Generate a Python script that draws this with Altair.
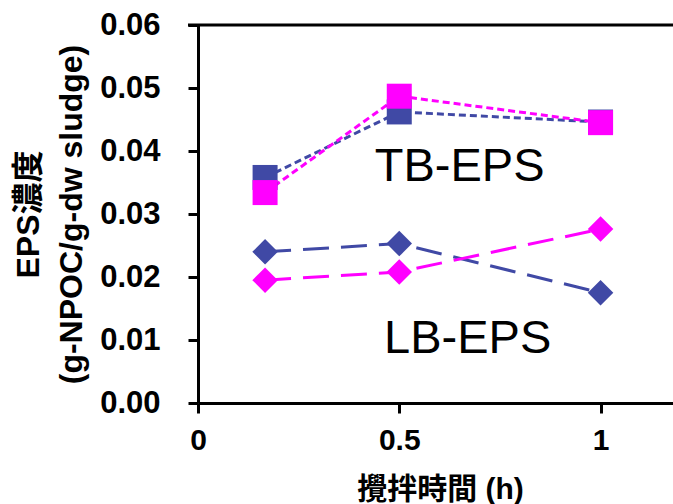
import altair as alt
import pandas as pd

times = [1/6, 0.5, 1.0]
tb_blue = [0.0358, 0.0462, 0.0446]
tb_pink = [0.0334, 0.0487, 0.0445]
lb_blue = [0.0240, 0.0253, 0.0175]
lb_pink = [0.0195, 0.0208, 0.0276]

BLUE = "#4049A5"
PINK = "#FF00FF"
FONT = "Liberation Sans, Noto Sans CJK JP"

rows = []
for name, vals, grp in [("TB-blue", tb_blue, "TB"), ("TB-pink", tb_pink, "TB"),
                        ("LB-blue", lb_blue, "LB"), ("LB-pink", lb_pink, "LB")]:
    for t, v in zip(times, vals):
        rows.append({"series": name, "group": grp, "t": t, "v": v})
df = pd.DataFrame(rows)

labels_df = pd.DataFrame({"t": [0.65, 0.67], "v": [0.0375, 0.0102], "txt": ["TB-EPS", "LB-EPS"]})

xscale = alt.Scale(domain=[0, 1.18], nice=False, zero=False)
yscale = alt.Scale(domain=[0, 0.06], nice=False)
cscale = alt.Scale(domain=["TB-blue", "TB-pink", "LB-blue", "LB-pink"],
                   range=[BLUE, PINK, BLUE, PINK])

xaxis = alt.Axis(values=[0, 0.5, 1], labelExpr="datum.value == 0 ? '0' : datum.value == 1 ? '1' : '0.5'",
                 title="攪拌時間 (h)", titleFont=FONT, titleFontSize=30, titleFontWeight="bold",
                 titleX=242, titleY=86, titleBaseline="middle", titleAlign="center",
                 labelFont=FONT, labelFontSize=30, labelFontWeight="bold", labelPadding=12,
                 domainColor="black", domainWidth=3, tickColor="black", tickWidth=3, tickSize=10,
                 grid=False, labelColor="black", titleColor="black", labelFlush=False)
yaxis = alt.Axis(values=[0, 0.01, 0.02, 0.03, 0.04, 0.05, 0.06], format=".2f",
                 title=["EPS濃度", "(g-NPOC/g-dw sludge)"], titleFont=FONT, titleFontSize=32,
                 titleFontWeight="bold", titleAngle=-90, titleX=-170, titleY=189,
                 titleAlign="center", titleBaseline="middle", titleLineHeight=43,
                 labelFont=FONT, labelFontSize=31, labelFontWeight="bold", labelPadding=28,
                 domainColor="black", domainWidth=3, tickColor="black", tickWidth=3, tickSize=10,
                 grid=False, labelColor="black", titleColor="black")

tb = df[df.group == "TB"]
lb = df[df.group == "LB"]

tb_lines = alt.Chart(tb).mark_line(strokeWidth=3, strokeDash=[7, 4]).encode(
    x=alt.X("t:Q", scale=xscale, axis=xaxis),
    y=alt.Y("v:Q", scale=yscale, axis=yaxis),
    color=alt.Color("series:N", scale=cscale, legend=None),
    detail="series:N")
lb_lines = alt.Chart(lb).mark_line(strokeWidth=3, strokeDash=[26, 12]).encode(
    x=alt.X("t:Q", scale=xscale),
    y=alt.Y("v:Q", scale=yscale),
    color=alt.Color("series:N", scale=cscale, legend=None),
    detail="series:N")
tb_pts = alt.Chart(tb).mark_point(shape="square", filled=True, size=625, opacity=1).encode(
    x=alt.X("t:Q", scale=xscale),
    y=alt.Y("v:Q", scale=yscale),
    color=alt.Color("series:N", scale=cscale, legend=None),
    order=alt.Order("series:N"))
lb_pts = alt.Chart(lb).mark_point(shape="diamond", filled=True, size=650, opacity=1).encode(
    x=alt.X("t:Q", scale=xscale),
    y=alt.Y("v:Q", scale=yscale),
    color=alt.Color("series:N", scale=cscale, legend=None))
texts = alt.Chart(labels_df).mark_text(font="Liberation Sans", fontSize=47, color="black",
                                        align="center", baseline="middle").encode(
    x=alt.X("t:Q", scale=xscale),
    y=alt.Y("v:Q", scale=yscale),
    text="txt:N")

top_border = alt.Chart(pd.DataFrame({"a": [0]})).mark_rule(color="black", strokeWidth=3).encode(
    x=alt.value(-10), x2=alt.value(475), y=alt.value(0))

chart = alt.layer(tb_lines, lb_lines, tb_pts, lb_pts, texts, top_border).properties(
    width=475, height=378,
    padding={"left": 198, "top": 25, "right": 0, "bottom": 101},
    autosize=alt.AutoSizeParams(type="none"),
).configure_view(stroke=None).configure(background="white")

chart.save("out.html", embed_options={"renderer": "svg", "actions": False})
